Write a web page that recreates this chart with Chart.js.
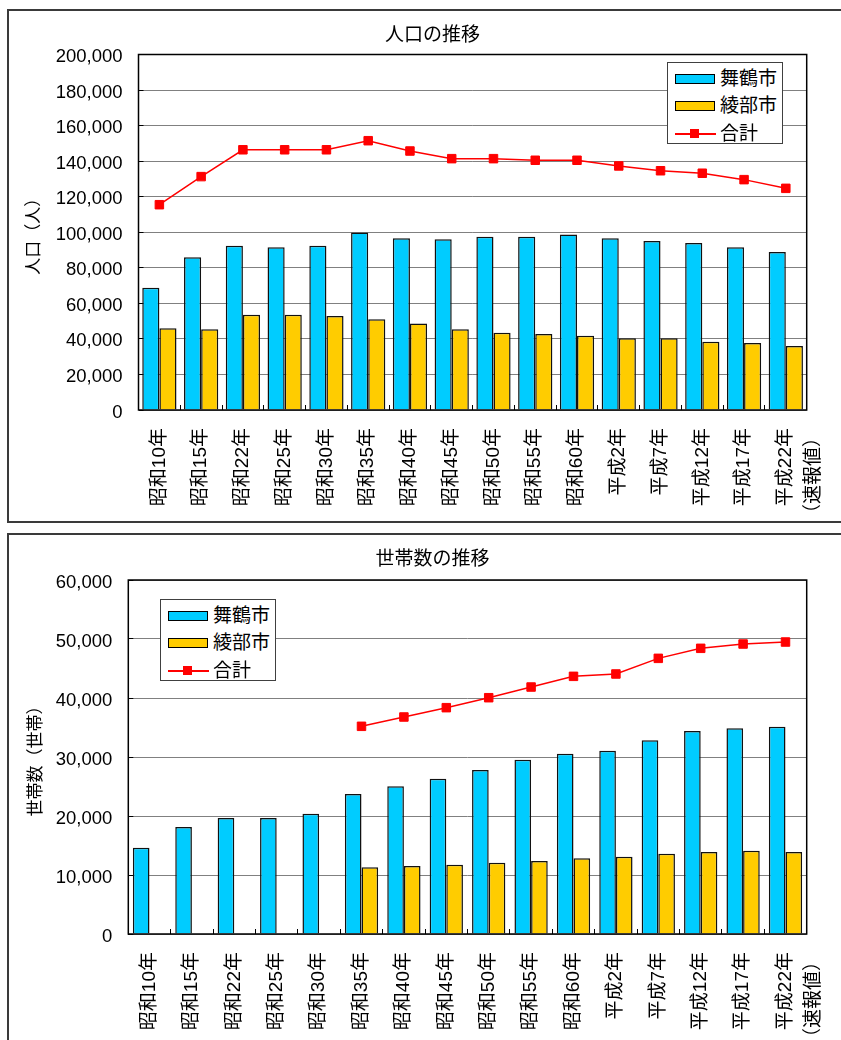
<!DOCTYPE html>
<html lang="ja">
<head>
<meta charset="utf-8">
<title>人口・世帯数の推移</title>
<script src="https://cdn.jsdelivr.net/npm/chart.js@4.4.1/dist/chart.umd.min.js"></script>
<style>
  html, body { margin: 0; padding: 0; background: #fff; width: 841px; height: 1040px; overflow: hidden; }
  .frame { position: absolute; box-sizing: border-box; border: 2px solid #3a3a3a; }
  .holder { position: absolute; left: 0; }
  .holder canvas { display: block; }
  .legend { position: absolute; box-sizing: border-box; background: #fff; border: 1px solid #404040;
            font: 19px 'Liberation Sans', 'Noto Sans CJK JP', sans-serif; color: #000; z-index: 2; }
  .legend .row { position: absolute; left: 0; right: 0; height: 24px; line-height: 24px; }
  .legend .swatch { position: absolute; left: 7px; top: 7px; width: 40px; height: 10px; box-sizing: border-box; border: 1px solid #000; }
  .legend .stroke { position: absolute; left: 7px; top: 11px; width: 41px; height: 2px; }
  .legend .marker { position: absolute; left: 22px; top: 7.5px; width: 9px; height: 9px; }
  .legend .text { position: absolute; left: 52px; top: 0; white-space: nowrap; }
</style>
</head>
<body>
<div class="frame" style="left:7px; top:9px; width:870px; height:514px;"></div>
<div class="frame" style="left:7px; top:533px; width:870px; height:560px;"></div>

<div class="holder" style="top:0px;"><canvas id="popChart" width="865" height="525"></canvas></div>
<div class="holder" style="top:527px;"><canvas id="hhChart" width="865" height="540"></canvas></div>

<script>
// Census years (category axis); the latest one is a preliminary figure
const years = ['昭和10年', '昭和15年', '昭和22年', '昭和25年', '昭和30年', '昭和35年', '昭和40年', '昭和45年',
               '昭和50年', '昭和55年', '昭和60年', '平成2年', '平成7年', '平成12年', '平成17年', ['平成22年', '（速報値）']];

const seriesNames = ['舞鶴市', '綾部市', '合計'];

// Population (persons)
const popMaizuru = [68800, 85900, 92400, 91500, 92400, 99900, 96600, 96000, 97500, 97500, 98800, 96600, 95100, 94000, 91500, 88900];
const popAyabe   = [46000, 45400, 53600, 53600, 52900, 51000, 48600, 45400, 43500, 42800, 41800, 40300, 40300, 38400, 37700, 36000];
const popTotal   = [115500, 131300, 146400, 146400, 146400, 151500, 145700, 141400, 141400, 140500, 140500, 137300, 134600, 133200, 129600, 124700];

// Households
const hhMaizuru = [14630, 18140, 19660, 19660, 20400, 23730, 25030, 26330, 27800, 29550, 30560, 31070, 32830, 34410, 34860, 35140];
const hhAyabe   = [null, null, null, null, null, 11300, 11530, 11750, 12090, 12370, 12830, 13110, 13610, 13900, 14120, 13900];
const hhTotal   = [null, null, null, null, null, 35200, 36780, 38360, 40050, 41860, 43670, 44070, 46720, 48420, 49150, 49490];

// Axis tick settings
const popTicks = { max: 200000, step: 20000 };
const hhTicks  = { max: 60000, step: 10000 };

const FONT = "'Liberation Sans', 'Noto Sans CJK JP', sans-serif";
const BLUE = '#00CCFF', YELLOW = '#FFCC00', RED = '#FF0000';

Chart.defaults.font.family = FONT;
Chart.defaults.color = '#000';

const withCommas = v => String(v).replace(/\B(?=(\d{3})+(?!\d))/g, ',');

// Black frame around the plot area, drawn over the bars
const plotFrame = {
  id: 'plotFrame',
  afterDatasetsDraw(chart) {
    const { ctx, chartArea: a } = chart;
    ctx.save();
    ctx.strokeStyle = '#000';
    ctx.lineWidth = 1.5;
    ctx.strokeRect(a.left, a.top, a.right - a.left, a.bottom - a.top);
    ctx.restore();
  }
};

function makeChart(id, cfg) {
  const datasets = [
    { type: 'line', label: seriesNames[2], data: cfg.total, order: 0,
      borderColor: RED, backgroundColor: RED, borderWidth: 1.5, tension: 0,
      pointStyle: 'rect', pointRadius: 6, pointBorderWidth: 1, pointBorderColor: RED, pointBackgroundColor: RED },
    { type: 'bar', label: seriesNames[0], data: cfg.maizuru, order: 1,
      backgroundColor: BLUE, borderColor: '#111', borderWidth: 1.5,
      categoryPercentage: cfg.catPct, barPercentage: 1 },
    { type: 'bar', label: seriesNames[1], data: cfg.ayabe, order: 1,
      backgroundColor: YELLOW, borderColor: '#111', borderWidth: 1.5,
      categoryPercentage: cfg.catPct, barPercentage: 1 }
  ];
  return new Chart(document.getElementById(id), {
    type: 'bar',
    data: { labels: years, datasets },
    options: {
      responsive: false,
      animation: false,
      events: [],
      layout: { padding: 0 },
      plugins: {
        legend: { display: false },
        tooltip: { enabled: false },
        title: { display: true, text: cfg.title, color: '#000',
                 font: { size: 19, weight: 'normal' },
                 padding: { top: cfg.titleTop, bottom: cfg.titleBottom } }
      },
      scales: {
        x: {
          grid: { display: true, drawOnChartArea: false, drawTicks: true, tickLength: -5,
                  color: '#000', tickColor: '#000', lineWidth: 1, offset: true },
          border: { display: false },
          ticks: { autoSkip: false, minRotation: 90, maxRotation: 90, padding: 23, color: '#000',
                   font: { size: 19, lineHeight: 1.47 } },
          afterFit(s) { s.height = cfg.xHeight; s.paddingLeft = 0; s.paddingRight = cfg.rightGap; }
        },
        y: {
          min: 0, max: cfg.ticks.max,
          grid: { color: '#808080', lineWidth: 1, drawTicks: true, tickLength: -5, tickColor: '#000' },
          border: { display: false },
          ticks: { stepSize: cfg.ticks.step, padding: 21, labelOffset: 2.5, color: '#000',
                   font: { size: 18.5 }, callback: v => withCommas(v) },
          title: { display: true, text: cfg.yTitle, color: '#000', font: { size: 17 },
                   padding: { top: cfg.yTitlePad, bottom: 0 } },
          afterFit(s) { s.width = cfg.plotLeft; }
        }
      }
    },
    plugins: [plotFrame]
  });
}

makeChart('popChart', {
  title: '人口の推移', yTitle: '人口（人）',
  maizuru: popMaizuru, ayabe: popAyabe, total: popTotal, ticks: popTicks,
  catPct: 0.82, titleTop: 24.6, titleBottom: 7.1,
  plotLeft: 138.5, rightGap: 58.3, xHeight: 115, yTitlePad: 24.5
});

makeChart('hhChart', {
  title: '世帯数の推移', yTitle: '世帯数（世帯）',
  maizuru: hhMaizuru, ayabe: hhAyabe, total: hhTotal, ticks: hhTicks,
  catPct: 0.785, titleTop: 21.1, titleBottom: 9.1,
  plotLeft: 128.3, rightGap: 58.3, xHeight: 133, yTitlePad: 26
});

// Legends inside the plot areas
function addLegend(left, top) {
  const box = document.createElement('div');
  box.className = 'legend';
  Object.assign(box.style, { left: left + 'px', top: top + 'px', width: '116px', height: '82px' });
  const centers = [15.5, 43, 70.5];
  const fills = [BLUE, YELLOW, RED];
  seriesNames.forEach((name, i) => {
    const row = document.createElement('div');
    row.className = 'row';
    row.style.top = (centers[i] - 12) + 'px';
    if (i < 2) {
      const sw = document.createElement('div');
      sw.className = 'swatch';
      sw.style.background = fills[i];
      row.appendChild(sw);
    } else {
      const st = document.createElement('div');
      st.className = 'stroke';
      st.style.background = fills[i];
      const mk = document.createElement('div');
      mk.className = 'marker';
      mk.style.background = fills[i];
      row.appendChild(st);
      row.appendChild(mk);
    }
    const tx = document.createElement('span');
    tx.className = 'text';
    tx.textContent = name;
    row.appendChild(tx);
    box.appendChild(row);
  });
  document.body.appendChild(box);
}
addLegend(667, 62);
addLegend(160, 599);
</script>
</body>
</html>
